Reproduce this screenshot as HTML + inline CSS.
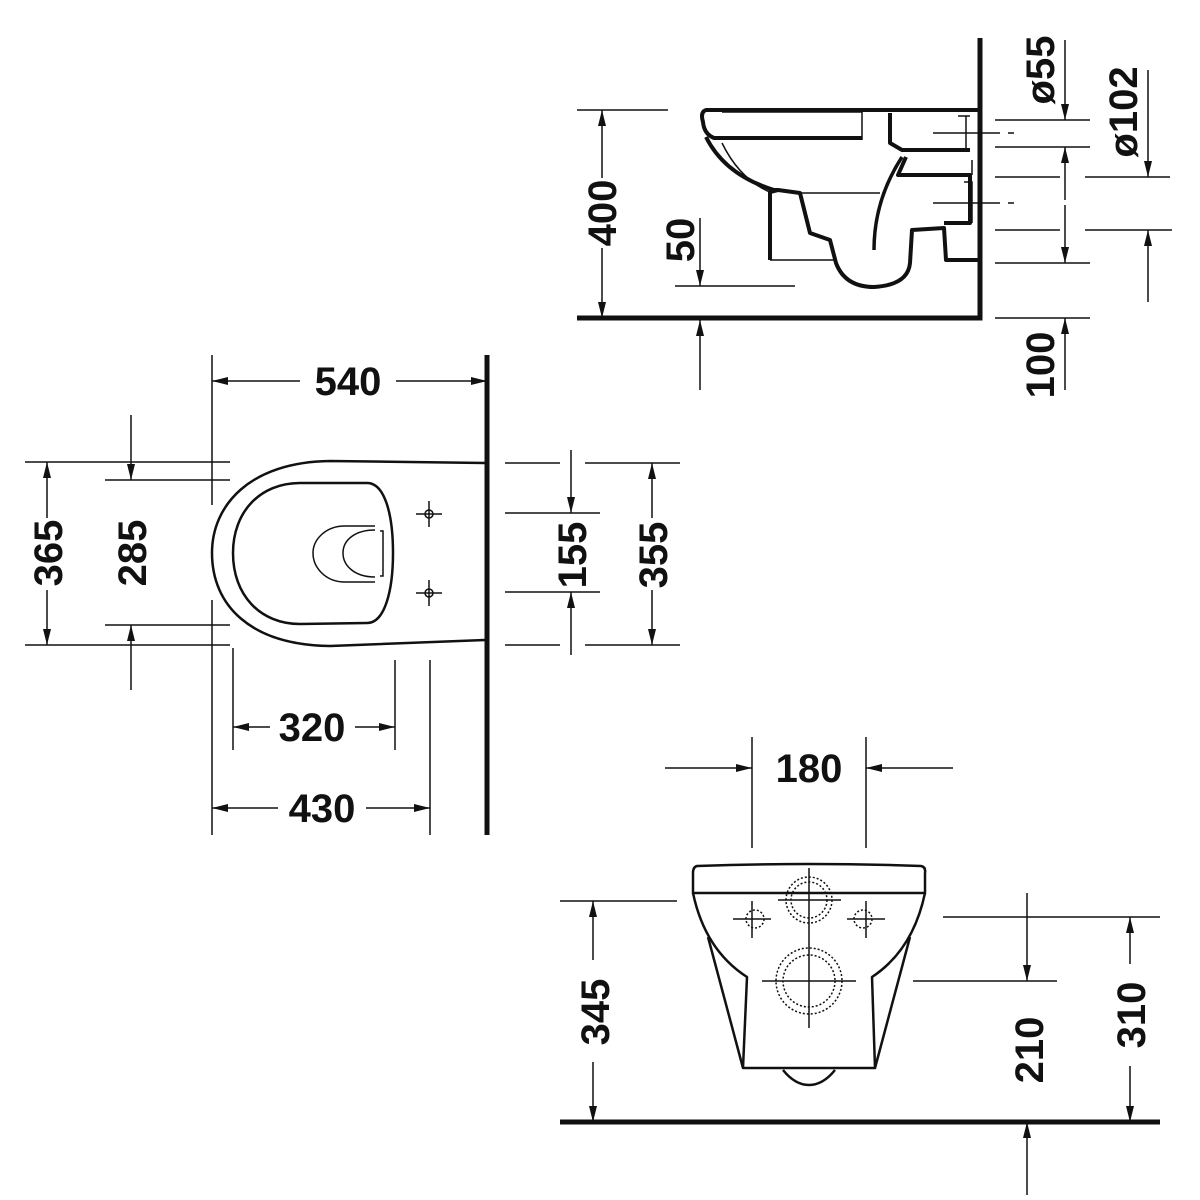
<!DOCTYPE html>
<html><head><meta charset="utf-8"><style>
html,body{margin:0;padding:0;background:#fff}
svg{display:block}
text{font-family:"Liberation Sans",sans-serif;font-weight:bold;font-size:40px;fill:#111}
</style></head><body>
<svg width="1200" height="1200" viewBox="0 0 1200 1200" xmlns="http://www.w3.org/2000/svg">
<defs>
<marker id="a" viewBox="0 0 16 8" refX="16" refY="4" markerWidth="16" markerHeight="8" markerUnits="userSpaceOnUse" orient="auto"><path d="M0,0 L16,4 L0,8z" fill="#111"/></marker>
</defs>
<g stroke="#111" fill="none" stroke-width="1.5">
<!-- ============ SIDE VIEW ============ -->
<path d="M980,38 V318 H577" stroke-width="5"/>
<!-- bowl -->
<g stroke-width="4" stroke-linejoin="round">
<path d="M982,110 H706 Q700,112 703,122 Q704,134 714,138 H862"/>
<path d="M706,137 Q725,175 774,190 L778,190 L770,192 V260"/>
<path d="M778,190 L800,193 L810,233 L830,240 L836,263 Q845,287 874,287 Q908,285 910,263 L912,230 L944,228 L946,260 H982"/>
<path d="M890,113 V143 L902,150 H970"/>
<path d="M906,157 L898,175 H970 V223 H944"/>
<path d="M874,250 Q874,200 902,157" stroke-width="3.5"/>
</g>
<g stroke-width="1.5">
<path d="M722,112 H862 V140"/>
<path d="M722,143 Q740,180 772,193"/>
<path d="M770,260 H834"/>
<path d="M966,116 V150 M958,116 H970"/>
<path d="M972,160 V175 M964,182 H972 V223"/>
<path d="M800,193 H880"/>
<path d="M933,133 H1000 M1008,133 H1014 M933,203 H1000 M1008,203 H1014"/>
</g>
<!-- 400 -->
<path d="M577,110 H668"/>
<path d="M602,178 V110" marker-end="url(#a)"/>
<path d="M602,248 V318" marker-end="url(#a)"/>
<!-- 50 -->
<path d="M675,286 H795"/>
<path d="M700,218 V286" marker-end="url(#a)"/>
<path d="M700,390 V320" marker-end="url(#a)"/>
<!-- right dims -->
<path d="M995,120 H1090 M995,147 H1090 M995,177 H1060 M1085,177 H1170 M995,230 H1060 M1085,230 H1172 M995,263 H1090 M995,318 H1090"/>
<path d="M1065,40 V120" marker-end="url(#a)"/>
<path d="M1065,200 V147" marker-end="url(#a)"/>
<path d="M1065,205 V263" marker-end="url(#a)"/>
<path d="M1148,70 V177" marker-end="url(#a)"/>
<path d="M1148,302 V230" marker-end="url(#a)"/>
<path d="M1065,390 V318" marker-end="url(#a)"/>
<!-- ============ PLAN VIEW ============ -->
<path d="M487,355 V835" stroke-width="5"/>
<path d="M485,463 L330,461 C250,462 212,505 212,553 C212,605 250,645 330,646 L485,640" stroke-width="2.5"/>
<path d="M300,483 L367,483 C385,483 393,515 393,553 C393,590 385,623 367,623 L300,624 C260,624 233,595 233,553 C233,512 260,483 300,483Z" stroke-width="2.5"/>
<path d="M375,526 L345,526 C325,526 313,540 313,553 C313,567 325,582 345,582 L375,582"/>
<path d="M375,530 C355,530 343,540 343,553 C343,566 355,577 375,577"/>
<path d="M380,531 H383 V576 H380"/>
<circle cx="429" cy="514" r="4"/><path d="M416,514 H442 M429,501 V527"/>
<circle cx="429" cy="593" r="4"/><path d="M416,593 H442 M429,580 V606"/>
<!-- 540 -->
<path d="M212,355 V505 M212,600 V835"/>
<path d="M300,381 H212" marker-end="url(#a)"/>
<path d="M396,381 H487" marker-end="url(#a)"/>
<!-- 365/285 -->
<path d="M25,462 H230 M25,645 H230 M105,480 H230 M105,625 H230"/>
<path d="M47,518 V462" marker-end="url(#a)"/>
<path d="M47,590 V645" marker-end="url(#a)"/>
<path d="M131,415 V480" marker-end="url(#a)"/>
<path d="M131,690 V625" marker-end="url(#a)"/>
<!-- 320/430 -->
<path d="M233,648 V750 M395,660 V750 M430,660 V835"/>
<path d="M270,727 H233" marker-end="url(#a)"/>
<path d="M355,727 H395" marker-end="url(#a)"/>
<path d="M278,808 H212" marker-end="url(#a)"/>
<path d="M366,808 H430" marker-end="url(#a)"/>
<!-- 155/355 -->
<path d="M505,463 H560 M585,463 H680 M505,513 H600 M505,592 H600 M505,645 H560 M585,645 H680"/>
<path d="M571,450 V513" marker-end="url(#a)"/>
<path d="M571,655 V592" marker-end="url(#a)"/>
<path d="M652,518 V463" marker-end="url(#a)"/>
<path d="M652,590 V645" marker-end="url(#a)"/>
<!-- ============ FRONT VIEW ============ -->
<path d="M560,1122 H1160" stroke-width="5"/>
<path d="M752,737 V848 M866,737 V848"/>
<path d="M665,768 H752" marker-end="url(#a)"/>
<path d="M953,768 H866" marker-end="url(#a)"/>
<g stroke-width="2.5" stroke-linejoin="round">
<path d="M697,866 Q809,862 921,866 Q926,867 925,873 V893 H693 V873 Q693,867 697,866Z"/>
<path d="M693,893 Q705,950 747,977 L743,1068 H875 L872,977 Q913,950 925,893"/>
<path d="M708,937 L743,1068 M910,937 L875,1068"/>
<path d="M783,1070 Q795,1085 809,1085 Q823,1085 835,1070"/>
</g>
<g stroke-width="1.5" stroke-dasharray="2,2">
<circle cx="809" cy="900" r="23"/><circle cx="809" cy="900" r="18"/>
<circle cx="809" cy="981" r="33"/><circle cx="809" cy="981" r="26"/>
<circle cx="755" cy="919" r="9"/><circle cx="863" cy="919" r="9"/>
</g>
<path d="M809,868 V1028 M778,900 H841 M762,981 H856 M733,919 H771 M752,901 V938 M847,919 H885 M866,901 V938"/>
<!-- 345 -->
<path d="M560,901 H677"/>
<path d="M593,960 V901" marker-end="url(#a)"/>
<path d="M593,1062 V1122" marker-end="url(#a)"/>
<!-- 210/310 -->
<path d="M943,917 H1057 M913,981 H1057 M1045,917 H1160"/>
<path d="M1027,893 V981" marker-end="url(#a)"/>
<path d="M1027,1195 V1122" marker-end="url(#a)"/>
<path d="M1130,964 V917" marker-end="url(#a)"/>
<path d="M1130,1066 V1122" marker-end="url(#a)"/>
</g>
<!-- labels -->
<g text-anchor="middle">
<text transform="translate(616,213) rotate(-90)">400</text>
<text transform="translate(694,240) rotate(-90)">50</text>
<text transform="translate(1054,70) rotate(-90)">ø55</text>
<text transform="translate(1137,112) rotate(-90)">ø102</text>
<text transform="translate(1054,365) rotate(-90)">100</text>
<text x="348" y="395">540</text>
<text transform="translate(62,553) rotate(-90)">365</text>
<text transform="translate(146,553) rotate(-90)">285</text>
<text transform="translate(586,555) rotate(-90)">155</text>
<text transform="translate(667,555) rotate(-90)">355</text>
<text x="312" y="741">320</text>
<text x="322" y="822">430</text>
<text x="809" y="782">180</text>
<text transform="translate(609,1012) rotate(-90)">345</text>
<text transform="translate(1043,1050) rotate(-90)">210</text>
<text transform="translate(1145,1015) rotate(-90)">310</text>
</g>
</svg>
</body></html>
